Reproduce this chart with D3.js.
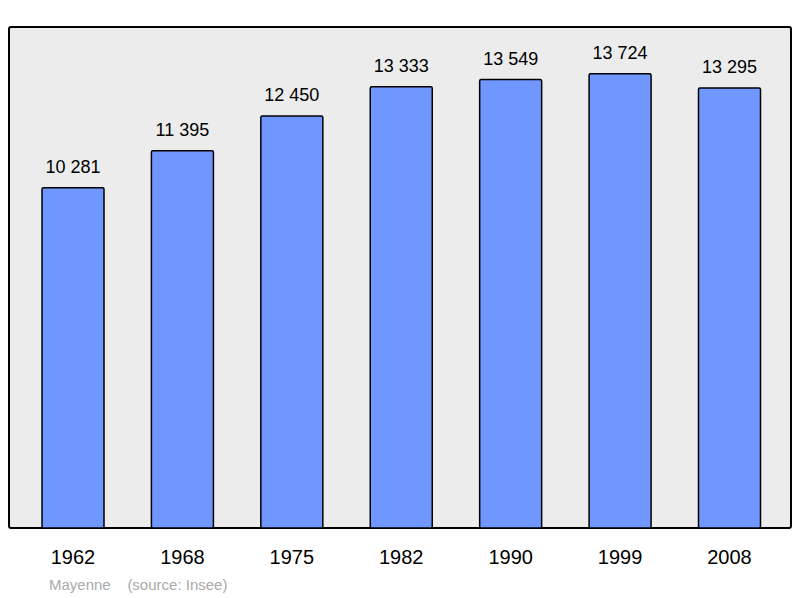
<!DOCTYPE html>
<html><head><meta charset="utf-8">
<script src="https://cdn.jsdelivr.net/npm/d3@7"></script>
<style>body{margin:0;background:#fff}text{font-family:"Liberation Sans",Arial,sans-serif}</style>
</head><body>
<script>
var years = ["1962","1968","1975","1982","1990","1999","2008"];
var population = [10281, 11395, 12450, 13333, 13549, 13724, 13295];
var footnote = "Mayenne    (source: Insee)";

var width = 800, height = 598;
var svg = d3.select("body").append("svg").attr("width", width).attr("height", height);

//frame
svg.append("rect").attr("x", 9).attr("y", 27).attr("width", 782).attr("height", 501)
  .attr("rx", 2).attr("fill", "#ececec").attr("stroke", "#000").attr("stroke-width", 2);

var x = d3.scalePoint().domain(years).range([73, 729.5]);
var y = d3.scaleLinear().domain([0, 15136]).range([528, 27]);
var bw = 62;

svg.selectAll(".bar").data(population).enter().append("rect")
  .attr("x", function(d, i) { return x(years[i]) - bw / 2; })
  .attr("y", function(d) { return y(d); })
  .attr("width", bw)
  .attr("height", function(d) { return y(0) - y(d); })
  .attr("rx", 1.5)
  .attr("fill", "#7097ff").attr("stroke", "#000").attr("stroke-width", 1.5);

svg.selectAll(".val").data(population).enter().append("text")
  .attr("x", function(d, i) { return x(years[i]); })
  .attr("y", function(d) { return y(d) - 15; })
  .attr("text-anchor", "middle").attr("font-size", 18)
  .text(function(d) { return d3.format(",")(d).replace(",", " "); });

svg.selectAll(".yr").data(years).enter().append("text")
  .attr("x", function(d) { return x(d); })
  .attr("y", 564)
  .attr("text-anchor", "middle").attr("font-size", 20)
  .text(function(d) { return d; });

svg.append("text").attr("x", 49).attr("y", 590).attr("font-size", 15)
  .attr("fill", "#aaa").attr("xml:space", "preserve").style("white-space", "pre").text(footnote);
</script>
</body></html>
